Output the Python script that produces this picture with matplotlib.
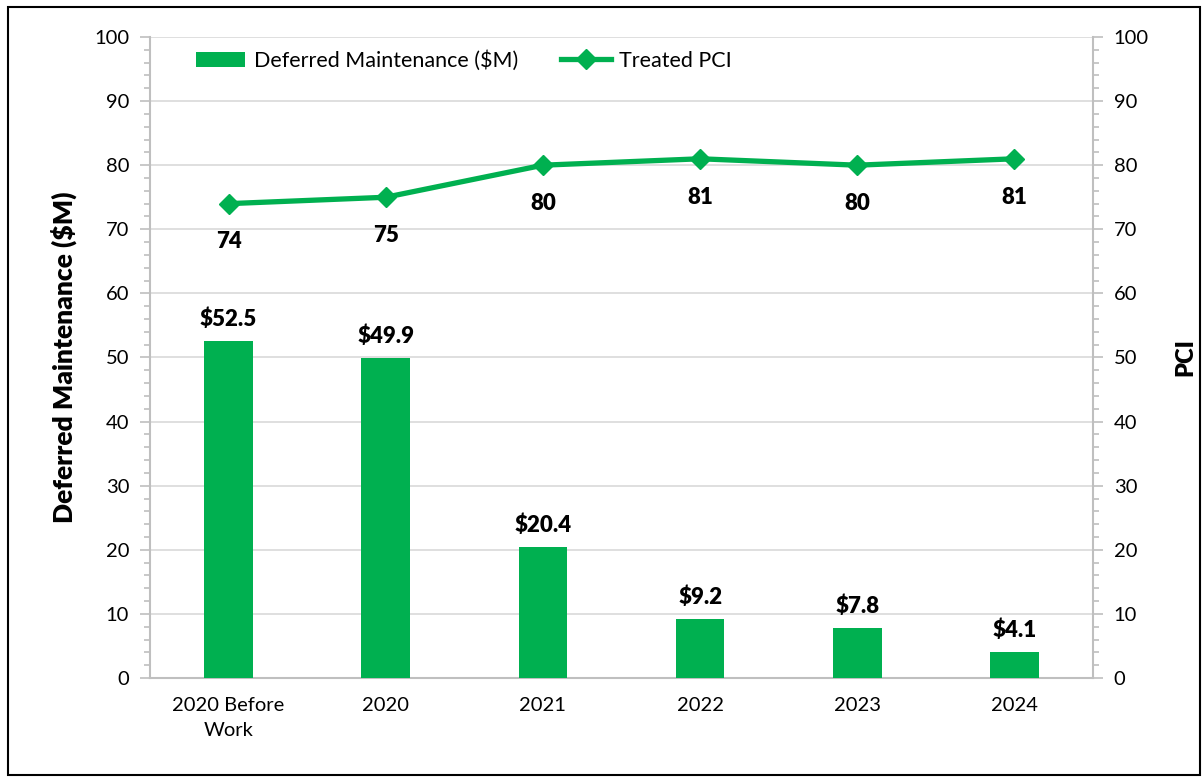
import matplotlib.pyplot as plt
from matplotlib.ticker import MultipleLocator
from matplotlib.patches import Rectangle

plt.rcParams['font.family'] = ['Lato', 'DejaVu Sans']

# data
categories = ['2020 Before\nWork', '2020', '2021', '2022', '2023', '2024']
deferred = [52.5, 49.9, 20.4, 9.2, 7.8, 4.1]
pci = [74, 75, 80, 81, 80, 81]

green = '#00B050'
grid_gray = '#D9D9D9'
axis_gray = '#BFBFBF'

fig = plt.figure(figsize=(12.04, 7.77), dpi=100)
ax = fig.add_axes([0.1246, 0.1274, 0.7832, 0.825])
ax2 = ax.twinx()

x = list(range(len(categories)))
bars = ax.bar(x, deferred, width=0.31, color=green, label='Deferred Maintenance ($M)', zorder=3)
line, = ax2.plot(x, pci, color=green, lw=3.8, marker='D', ms=10, label='Treated PCI', zorder=4)

for a in (ax, ax2):
    a.set_ylim(0, 100)
    a.yaxis.set_major_locator(MultipleLocator(10))
    a.yaxis.set_minor_locator(MultipleLocator(2))
    a.tick_params(axis='y', which='major', length=7, width=1.2, color=axis_gray,
                  labelsize=14.5, pad=8)
    a.tick_params(axis='y', which='minor', length=4, width=1.2, color=axis_gray)
    for s in a.spines.values():
        s.set_visible(False)

ax.set_xlim(-0.5, len(categories) - 0.5)
ax.set_xticks(x)
ax.set_xticklabels(categories, fontsize=14.5, linespacing=1.55)
ax.tick_params(axis='x', length=0, pad=14)

ax.spines['left'].set_visible(True)
ax.spines['left'].set_color(axis_gray)
ax.spines['left'].set_linewidth(1.5)
ax.spines['bottom'].set_visible(True)
ax.spines['bottom'].set_color(axis_gray)
ax.spines['bottom'].set_linewidth(1.5)
ax2.spines['right'].set_visible(True)
ax2.spines['right'].set_color(axis_gray)
ax2.spines['right'].set_linewidth(1.5)

ax.yaxis.grid(True, color=grid_gray, lw=1.2, zorder=0)
ax.set_axisbelow(True)

ax.set_ylabel('Deferred Maintenance ($M)', fontsize=19, fontweight='heavy', labelpad=12)
ax2.set_ylabel('PCI', fontsize=17, fontweight='heavy', labelpad=18)

for xi, v in zip(x, deferred):
    ax.annotate(f'${v:.1f}', (xi, v), xytext=(0, 8), textcoords='offset points',
                ha='center', va='bottom', fontsize=16, fontweight='heavy')
for xi, v in zip(x, pci):
    ax2.annotate(f'{v}', (xi, v), xytext=(0, -20), textcoords='offset points',
                 ha='center', va='top', fontsize=16, fontweight='heavy')

ax.legend([bars, line], ['Deferred Maintenance ($M)', 'Treated PCI'], loc='upper left',
          bbox_to_anchor=(0.028, 1.01), ncol=2, frameon=False, fontsize=15.5,
          handlelength=2.3, handletextpad=0.4, columnspacing=2.0)

fig.patches.append(Rectangle((0.007, 0.003), 0.99, 0.988, transform=fig.transFigure,
                             fill=False, edgecolor='black', lw=1.5))

fig.savefig('out.png', dpi=100)
